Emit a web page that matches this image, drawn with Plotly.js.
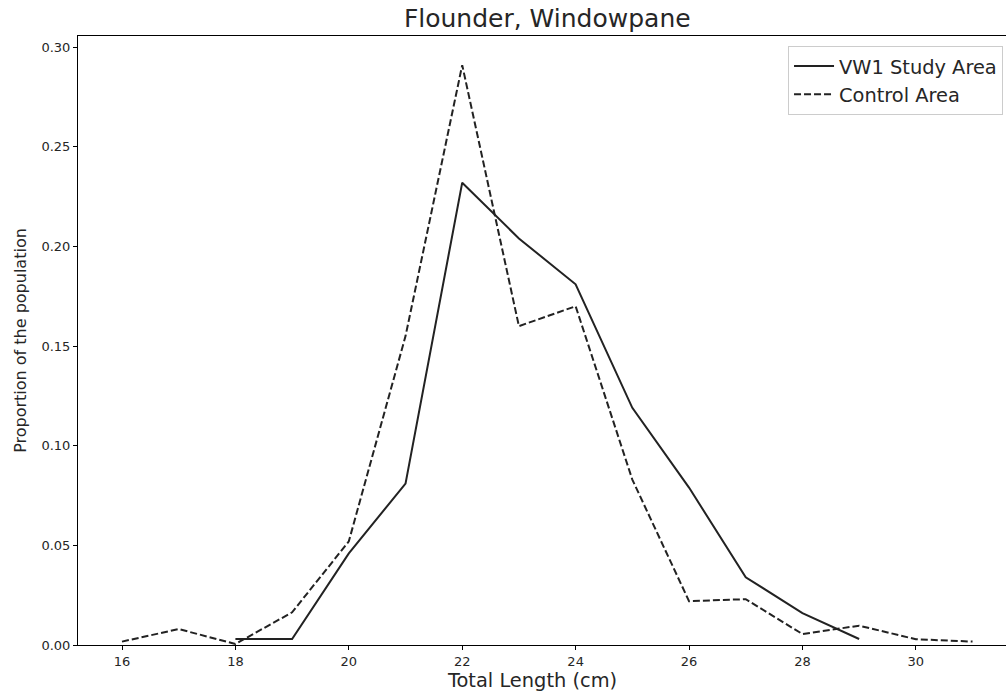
<!DOCTYPE html>
<html>
<head>
<meta charset="utf-8">
<script src="https://cdn.plot.ly/plotly-3.0.1.min.js"></script>
<style>html,body{margin:0;padding:0;background:#fff;}#chart{width:1006px;height:700px;}</style>
</head>
<body>
<div id="chart"></div>
<script>
// Data
const studyLengths = [18, 19, 20, 21, 22, 23, 24, 25, 26, 27, 28, 29];
const studyValues  = [0.003, 0.003, 0.046, 0.081, 0.232, 0.204, 0.181, 0.119, 0.079, 0.034, 0.016, 0.003];
const controlLengths = [16, 17, 18, 19, 20, 21, 22, 23, 24, 25, 26, 27, 28, 29, 30, 31];
const controlValues  = [0.0017, 0.008, 0.0005, 0.0164, 0.052, 0.155, 0.291, 0.160, 0.170, 0.083, 0.022, 0.023, 0.0055, 0.0097, 0.0029, 0.0017];
const xTicks = [16, 18, 20, 22, 24, 26, 28, 30];
const yTicks = [0, 0.05, 0.10, 0.15, 0.20, 0.25, 0.30];
const seriesNames = ["VW1 Study Area", "Control Area"];

const FONT = "DejaVu Sans, sans-serif";
const traces = [
  {x: studyLengths, y: studyValues, type: "scatter", mode: "lines", name: seriesNames[0],
   line: {color: "#222222", width: 2, dash: "solid"}},
  {x: controlLengths, y: controlValues, type: "scatter", mode: "lines", name: seriesNames[1],
   line: {color: "#222222", width: 2, dash: "7px,3px"}}
];

const layout = {
  width: 1006, height: 700,
  paper_bgcolor: "#fff", plot_bgcolor: "#fff",
  margin: {l: 78, r: 0, t: 36, b: 55},
  font: {family: FONT, color: "#262626"},
  title: {text: "Flounder, Windowpane", font: {family: FONT, size: 25, color: "#262626"},
          xref: "container", x: 0.544, xanchor: "center", yref: "container", y: 0.974, yanchor: "middle"},
  xaxis: {range: [15.224, 31.59], tickvals: xTicks, ticktext: xTicks.map(String),
          showgrid: false, zeroline: false, showline: true, linecolor: "#000", linewidth: 1,
          mirror: true, ticks: "outside", ticklen: 4, tickcolor: "#000",
          tickfont: {family: FONT, size: 13, color: "#262626"},
          title: {text: "Total Length (cm)<span style=\"color:rgba(0,0,0,0)\">m</span>",
                  font: {family: FONT, size: 19.4, color: "#262626"}, standoff: 5}},
  yaxis: {range: [0, 0.3056], tickvals: yTicks, tickformat: ".2f",
          showgrid: false, zeroline: false, showline: true, linecolor: "#000", linewidth: 1,
          mirror: false, ticks: "outside", ticklen: 4, tickcolor: "#000",
          tickfont: {family: FONT, size: 13, color: "#262626"},
          title: {text: "Proportion of the population", font: {family: FONT, size: 16, color: "#262626"}, standoff: 10}},
  legend: {x: 0.9968, xanchor: "right", y: 0.9836, yanchor: "top",
           bgcolor: "#fff", bordercolor: "#cccccc", borderwidth: 1, itemwidth: 40,
           font: {family: FONT, size: 19.4, color: "#262626"}},
  showlegend: true
};

Plotly.newPlot("chart", traces, layout, {displayModeBar: false, staticPlot: true});
</script>
</body>
</html>
